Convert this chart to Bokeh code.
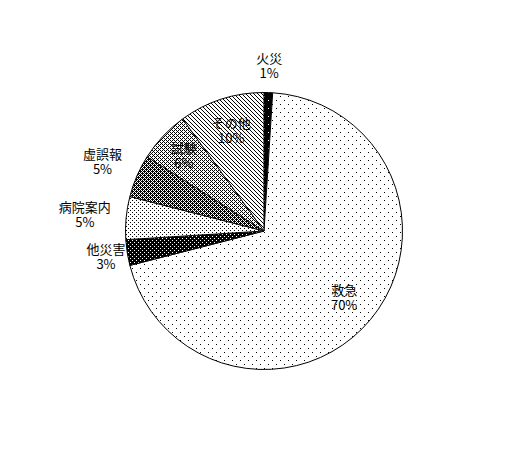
import numpy as np
import base64, struct, zlib
from bokeh.plotting import figure
from bokeh.models import ColumnDataSource, ImageURLTexture
from bokeh.core.properties import value
from bokeh.embed import file_html
from bokeh.resources import INLINE

# data (clockwise from 12 o'clock)
categories = ["火災", "救急", "他災害", "病院案内", "虚誤報", "試験", "その他"]
percents = [1, 70, 3, 5, 5, 6, 10]
pct_labels = ["1%", "70%", "3%", "5%", "5%", "6%", "10%"]

# styles: bitmap fill patterns (1 = black pixel)
def png_url(rows):
    h = len(rows); w = len(rows[0])
    raw = b"".join(b"\x00" + bytes(0 if c == "1" else 255 for c in r) for r in rows)
    def chunk(t, d):
        return struct.pack(">I", len(d)) + t + d + struct.pack(">I", zlib.crc32(t + d) & 0xffffffff)
    png = (b"\x89PNG\r\n\x1a\n" + chunk(b"IHDR", struct.pack(">IIBBBBB", w, h, 8, 0, 0, 0, 0))
           + chunk(b"IDAT", zlib.compress(raw)) + chunk(b"IEND", b""))
    return "data:image/png;base64," + base64.b64encode(png).decode()

pat_rows = {
    "fire": ["01111111", "11111111", "11111111", "11111111",
             "11110111", "11111111", "11111111", "11111111"],
    "p5": ["10000000", "00000000", "00000000", "00000000",
           "00001000", "00000000", "00000000", "00000000"],
    "inv20": ["0111", "1111", "1101", "1111"],
    "p20": ["1000", "0000", "0010", "0000"],
    "p60": ["1010", "0111", "1010", "1101"],
    "p40": ["1010", "0001", "1010", "0100"],
    "diag": ["1000", "0100", "0010", "0001"],
}
slice_patterns = ["fire", "p5", "inv20", "p20", "p60", "p40", "diag"]
label_radius = [166, 104, 160, 180, 176, 110, 106]

hatch_extra = {k: ImageURLTexture(url=png_url(v)) for k, v in pat_rows.items()}

W, H = 526, 459
cx, cy, R = 263.5, H - 230.5, 138.5

frac = np.array(percents, dtype=float) / sum(percents)
cum = np.concatenate([[0], np.cumsum(frac)])
start = np.pi / 2 - cum[:-1] * 2 * np.pi
end = np.pi / 2 - cum[1:] * 2 * np.pi
mid = (start + end) / 2

p = figure(width=W, height=H, x_range=(0, W), y_range=(0, H),
           output_backend="svg", toolbar_location=None, min_border=0)
p.axis.visible = False
p.grid.visible = False
p.outline_line_color = None
p.background_fill_color = "white"

src = ColumnDataSource(dict(start=start, end=end, hp=slice_patterns))
p.wedge(x=cx, y=cy, radius=R, start_angle="end", end_angle="start",
        direction="anticlock", fill_color="white", line_color="black", line_width=1,
        hatch_pattern="hp", hatch_extra=hatch_extra, source=src)

lx = cx + np.array(label_radius) * np.cos(mid)
ly = cy + np.array(label_radius) * np.sin(mid)
p.text(x=lx, y=ly + 8, text=categories, text_align="center", text_baseline="middle",
       text_font=value("Noto Sans CJK JP"), text_font_size="13px", text_color="black")
p.text(x=lx, y=ly - 7, text=pct_labels, text_align="center", text_baseline="middle",
       text_font=value("Noto Sans CJK JP"), text_font_size="13px", text_color="black")

open("out.html", "w").write(file_html(p, INLINE))
